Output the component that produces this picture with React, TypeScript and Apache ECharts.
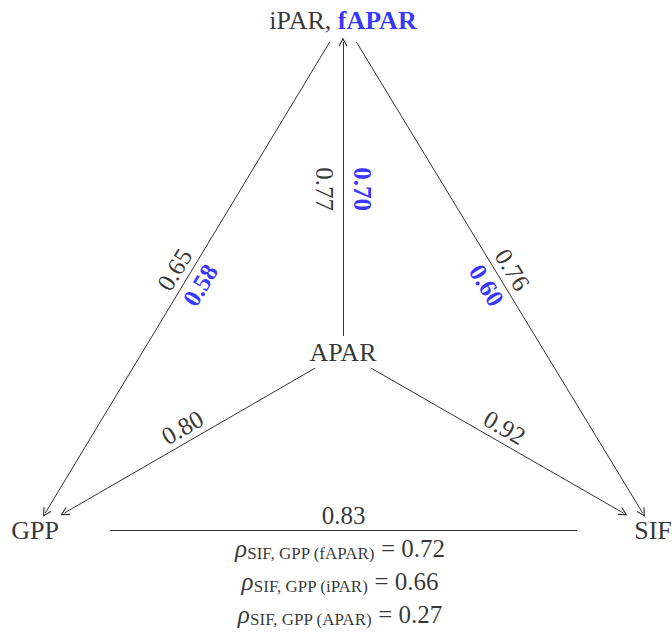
import React, { useEffect, useRef } from "react";
import * as echarts from "echarts";

// ---- data ----
const nodeIds = ["PAR", "APAR", "GPP", "SIF"];
const nodeTexts = ["{k|iPAR, }{b|fAPAR}", "APAR", "GPP", "SIF"];
const edgeSource = ["APAR", "PAR", "PAR", "APAR", "APAR", "GPP"];
const edgeTarget = ["PAR", "GPP", "SIF", "GPP", "SIF", "SIF"];
const edgeArrow = [true, true, true, true, true, false];
const corrIPAR = [0.77, 0.65, 0.76, 0.8, 0.92, 0.83];
const corrFAPAR: (number | null)[] = [0.7, 0.58, 0.6, null, null, null];
const rhoConditions = ["fAPAR", "iPAR", "APAR"];
const rhoValues = [0.72, 0.66, 0.27];

// ---- layout (diagram coordinates, 1 unit = 1 px) ----
const W = 672;
const H = 633;
const nodePos: Record<string, [number, number]> = {
  PAR: [343, 20],
  APAR: [343, 352],
  GPP: [35, 530],
  SIF: [653, 530],
};
const nodeHalf: Record<string, [number, number]> = {
  PAR: [85, 22],
  APAR: [43, 16],
  GPP: [31, 17],
  SIF: [32, 17],
};
const edgeExtraShorten = [0, 0, 0, 0, 0, 44];
// +1: black value on the "above" side of the label direction
const blackSide = [-1, 1, 1, 1, 1, 1];
const labelOffset = [19, 15, 15, 15, 15, 15];

const FONT = "'Liberation Serif', 'Times New Roman', serif";
const BLUE = "#0000ff";
const LINE = "#333333";
const CHEVRON = "path://M5,0 L10,9 L8.9,9.6 L5,2.6 L1.1,9.6 L0,9 Z";

function clip(c: [number, number], t: [number, number], half: [number, number]): [number, number] {
  const dx = t[0] - c[0];
  const dy = t[1] - c[1];
  const tx = dx !== 0 ? half[0] / Math.abs(dx) : Infinity;
  const ty = dy !== 0 ? half[1] / Math.abs(dy) : Infinity;
  const k = Math.min(tx, ty);
  return [c[0] + dx * k, c[1] + dy * k];
}

function buildOption() {
  const segs = edgeSource.map((s, i) => {
    const t = edgeTarget[i];
    const a = nodePos[s];
    const b = nodePos[t];
    let p = clip(a, b, nodeHalf[s]);
    let q = clip(b, a, nodeHalf[t]);
    const ex = edgeExtraShorten[i];
    if (ex) {
      const len = Math.hypot(q[0] - p[0], q[1] - p[1]);
      const ux = (q[0] - p[0]) / len;
      const uy = (q[1] - p[1]) / len;
      p = [p[0] + ux * ex, p[1] + uy * ex];
      q = [q[0] - ux * ex, q[1] - uy * ex];
    }
    return { p, q };
  });

  const edgeLabelData: any[] = [];
  segs.forEach(({ p, q }, i) => {
    let vx = q[0] - p[0];
    let vy = q[1] - p[1];
    if (vx < -1e-9 || (Math.abs(vx) < 1e-9 && vy < 0)) {
      vx = -vx;
      vy = -vy;
    }
    const theta = -Math.atan2(vy, vx); // radians, CCW positive
    const rot = (theta * 180) / Math.PI;
    const upx = -Math.sin(theta);
    const upy = -Math.cos(theta);
    const mx = (p[0] + q[0]) / 2;
    const my = (p[1] + q[1]) / 2;
    const d = labelOffset[i];
    const sb = blackSide[i];
    edgeLabelData.push({
      value: [mx + upx * d * sb, my + upy * d * sb],
      label: { formatter: corrIPAR[i].toFixed(2), rotate: rot, color: "#000", fontWeight: "normal" },
    });
    const fv = corrFAPAR[i];
    if (fv !== null) {
      edgeLabelData.push({
        value: [mx - upx * d * sb, my - upy * d * sb],
        label: { formatter: fv.toFixed(2), rotate: rot, color: BLUE, fontWeight: "bold" },
      });
    }
  });

  const gs = nodePos.GPP;
  const sf = nodePos.SIF;
  const midX = (gs[0] + sf[0]) / 2 - 4;
  const rhoData = rhoConditions.map((c, i) => ({
    value: [midX, gs[1] + 18 + i * 33],
    label: {
      formatter: `{r|ρ}{s|SIF, GPP (${c})}{e| = ${rhoValues[i].toFixed(2)}}`,
    },
  }));

  return {
    animation: false,
    backgroundColor: "#ffffff",
    grid: { left: 0, right: 0, top: 0, bottom: 0 },
    xAxis: { type: "value", min: 0, max: W, show: false },
    yAxis: { type: "value", min: 0, max: H, inverse: true, show: false },
    series: [
      {
        type: "lines",
        coordinateSystem: "cartesian2d",
        silent: true,
        symbol: ["none", CHEVRON],
        symbolSize: 9,
        lineStyle: { color: LINE, width: 1, opacity: 1, curveness: 0 },
        data: segs.filter((_, i) => edgeArrow[i]).map((s) => ({ coords: [s.p, s.q] })),
      },
      {
        type: "lines",
        coordinateSystem: "cartesian2d",
        silent: true,
        symbol: ["none", "none"],
        lineStyle: { color: LINE, width: 1, opacity: 1, curveness: 0 },
        data: segs.filter((_, i) => !edgeArrow[i]).map((s) => ({ coords: [s.p, s.q] })),
      },
      {
        type: "scatter",
        silent: true,
        clip: false,
        symbolSize: 1,
        itemStyle: { color: "transparent" },
        label: {
          show: true,
          position: "inside",
          fontFamily: FONT,
          fontSize: 26,
          color: "#000",
          rich: {
            k: { fontFamily: FONT, fontSize: 26, color: "#000" },
            b: { fontFamily: FONT, fontSize: 26, color: BLUE, fontWeight: "bold" },
          },
        },
        data: nodeIds.map((id, i) => ({
          value: nodePos[id],
          label: { formatter: nodeTexts[i] },
        })),
      },
      {
        type: "scatter",
        silent: true,
        clip: false,
        symbolSize: 1,
        itemStyle: { color: "transparent" },
        label: {
          show: true,
          position: "inside",
          fontFamily: FONT,
          fontSize: 25,
        },
        data: edgeLabelData,
      },
      {
        type: "scatter",
        silent: true,
        clip: false,
        symbolSize: 1,
        itemStyle: { color: "transparent" },
        label: {
          show: true,
          position: "inside",
          fontFamily: FONT,
          color: "#000",
          rich: {
            r: { fontFamily: FONT, fontSize: 25, fontStyle: "italic", color: "#000", lineHeight: 28 },
            s: { fontFamily: FONT, fontSize: 17, color: "#000", lineHeight: 14, verticalAlign: "bottom" },
            e: { fontFamily: FONT, fontSize: 25, color: "#000", lineHeight: 28 },
          },
        },
        data: rhoData,
      },
    ],
  };
}

export default function App() {
  const ref = useRef<HTMLDivElement>(null);
  useEffect(() => {
    if (!ref.current) return;
    const chart = echarts.init(ref.current, undefined, { renderer: "svg" });
    chart.setOption(buildOption() as any);
    return () => chart.dispose();
  }, []);
  return (
    <div
      ref={ref}
      style={{ position: "absolute", left: 0, top: 0, width: W, height: H, background: "#fff" }}
    />
  );
}
